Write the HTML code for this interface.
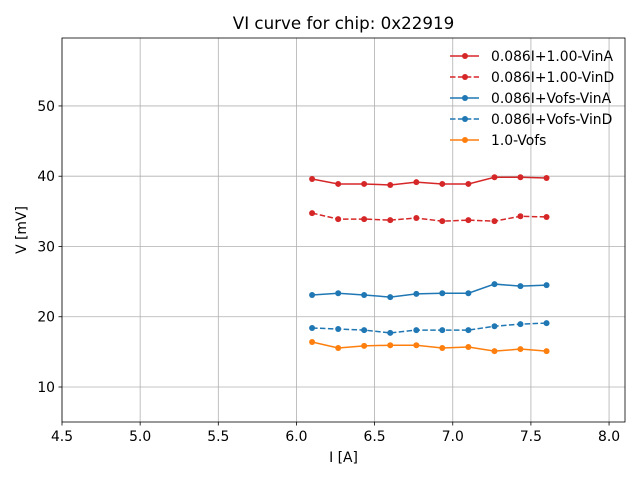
<!DOCTYPE html>
<html><head><meta charset="utf-8"><style>
body{margin:0;background:#fff;font-family:"Liberation Sans","DejaVu Sans",sans-serif}
svg text{font-family:"DejaVu Sans","Liberation Sans",sans-serif}
</style></head><body>
<svg id="chart" width="640" height="480" xmlns="http://www.w3.org/2000/svg"></svg>
<script>
const currents=[6.1,6.267,6.433,6.6,6.767,6.933,7.1,7.267,7.433,7.6];
const vinA=[39.6,38.9,38.9,38.75,39.15,38.9,38.9,39.85,39.85,39.75];
const vinD=[34.75,33.9,33.9,33.75,34.05,33.6,33.75,33.6,34.3,34.2];
const vofsVinA=[23.1,23.35,23.1,22.8,23.25,23.35,23.35,24.65,24.35,24.5];
const vofsVinD=[18.4,18.25,18.1,17.7,18.1,18.1,18.1,18.65,18.95,19.1];
const vofs=[16.4,15.55,15.85,15.95,15.95,15.55,15.7,15.1,15.4,15.1];
const seriesNames=["0.086I+1.00-VinA","0.086I+1.00-VinD","0.086I+Vofs-VinA","0.086I+Vofs-VinD","1.0-Vofs"];
const xTicks=[4.5,5.0,5.5,6.0,6.5,7.0,7.5,8.0];
const yTicks=[10,20,30,40,50];
const L=62,R=625,T=38,B=422,xmin=4.5,xmax=8.102,ymin=5.02,ymax=59.67;
const sx=v=>L+(v-xmin)/(xmax-xmin)*(R-L);
const sy=v=>B-(v-ymin)/(ymax-ymin)*(B-T);
const svg=document.getElementById('chart');
const NS="http://www.w3.org/2000/svg";
function mk(tag,attrs,parent){const e=document.createElementNS(NS,tag);for(const k in attrs)e.setAttribute(k,attrs[k]);(parent||svg).appendChild(e);return e;}
xTicks.forEach(t=>{const g=mk('line',{x1:sx(t),x2:sx(t),y1:T,y2:B,stroke:'#b0b0b0','stroke-width':0.8});


mk('line',{x1:sx(t),x2:sx(t),y1:B,y2:B+3.5,stroke:'#000','stroke-width':0.8});
const tx=mk('text',{x:sx(t),y:B+19,'font-size':13.9,'text-anchor':'middle'});tx.textContent=t.toFixed(1);

});
yTicks.forEach(t=>{const g=mk('line',{x1:L,x2:R,y1:sy(t),y2:sy(t),stroke:'#b0b0b0','stroke-width':0.8});


mk('line',{x1:L-3.5,x2:L,y1:sy(t),y2:sy(t),stroke:'#000','stroke-width':0.8});
const tx=mk('text',{x:L-7,y:sy(t)+5,'font-size':13.9,'text-anchor':'end'});tx.textContent=t;

});
const colors=['#d62728','#d62728','#1f77b4','#1f77b4','#ff7f0e'];
const dashes=[null,'5.5,2.4',null,'5.5,2.4',null];
[vinA,vinD,vofsVinA,vofsVinD,vofs].forEach((s,i)=>{
 const pl=mk('polyline',{points:s.map((v,j)=>sx(currents[j])+','+sy(v)).join(' '),fill:'none',stroke:colors[i],'stroke-width':1.5});
 if(dashes[i])pl.setAttribute('stroke-dasharray',dashes[i]);
 
 
 s.forEach((v,j)=>{const c=mk('circle',{cx:sx(currents[j]),cy:sy(v),r:3,fill:colors[i]});
 
 });
});
const fr=mk('rect',{x:L,y:T,width:R-L,height:B-T,fill:'none',stroke:'#000','stroke-width':0.8});


const lg=mk('rect',{x:445,y:45,width:174,height:107,fill:'#fff','fill-opacity':0,stroke:'none'});


seriesNames.forEach((n,i)=>{const y=56+i*21;
 const l=mk('line',{x1:450,x2:479,y1:y,y2:y,stroke:colors[i],'stroke-width':1.5});
 if(dashes[i])l.setAttribute('stroke-dasharray',dashes[i]);
 mk('circle',{cx:465,cy:y,r:3,fill:colors[i]});
 const t=mk('text',{x:491,y:y+5,'font-size':13.9});t.textContent=n;
 
 });
const ti=mk('text',{x:(L+R)/2,y:29,'font-size':16.7,'text-anchor':'middle'});ti.textContent='VI curve for chip: 0x22919';


const xl=mk('text',{x:(L+R)/2,y:462,'font-size':13.9,'text-anchor':'middle'});xl.textContent='I [A]';


const yl=mk('text',{x:26,y:(T+B)/2,'font-size':13.9,'text-anchor':'middle',transform:'rotate(-90 26 '+(T+B)/2+')'});yl.textContent='V [mV]';


</script>
</body></html>
